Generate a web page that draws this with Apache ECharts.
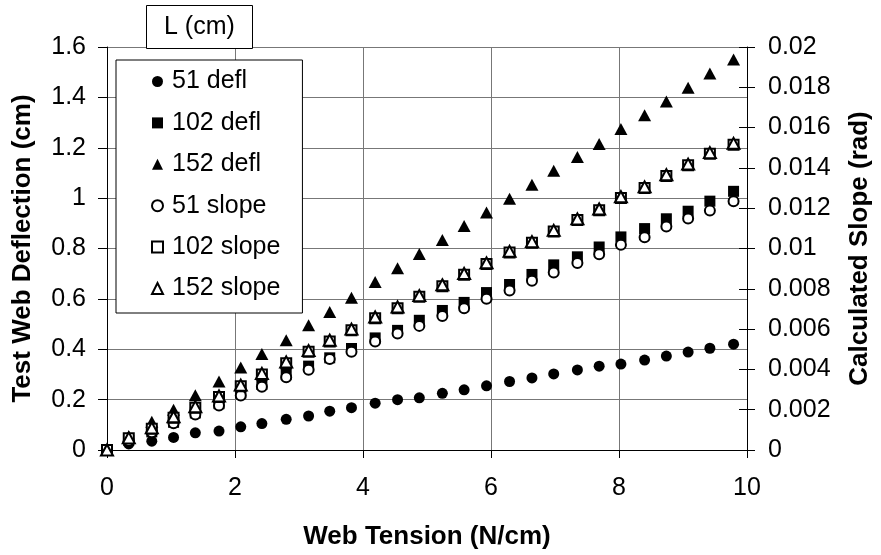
<!DOCTYPE html>
<html>
<head>
<meta charset="utf-8">
<script src="https://cdn.jsdelivr.net/npm/echarts@6/dist/echarts.min.js"></script>
<style>
  html, body { margin: 0; padding: 0; background: #fff; overflow: hidden; }
  #chart { width: 881px; height: 555px; }
</style>
</head>
<body>
<div id="chart"></div>
<script>
// web tension (N/cm), same for every series
var tension = [0, 0.34, 0.70, 1.04, 1.38, 1.75, 2.09, 2.42, 2.80, 3.15, 3.48, 3.82, 4.19, 4.54, 4.88,
  5.24, 5.58, 5.93, 6.29, 6.64, 6.98, 7.35, 7.69, 8.03, 8.40, 8.74, 9.08, 9.42, 9.79]

// deflection (cm), left axis
var defl51 = [0, 0.024, 0.035, 0.05, 0.068, 0.075, 0.092, 0.105, 0.122, 0.135, 0.154, 0.168, 0.186, 0.2, 0.207,
  0.225, 0.239, 0.255, 0.272, 0.286, 0.302, 0.318, 0.333, 0.341, 0.357, 0.373, 0.389, 0.404, 0.42]
var defl102 = [0, 0.038, 0.072, 0.11, 0.147, 0.184, 0.226, 0.26, 0.301, 0.333, 0.366, 0.403, 0.445, 0.475, 0.515,
  0.554, 0.586, 0.625, 0.657, 0.697, 0.735, 0.767, 0.806, 0.846, 0.879, 0.918, 0.948, 0.988, 1.027]
var defl152 = [0, 0.055, 0.112, 0.16, 0.217, 0.272, 0.328, 0.381, 0.436, 0.495, 0.548, 0.604, 0.667, 0.722, 0.778,
  0.834, 0.889, 0.943, 0.998, 1.053, 1.109, 1.163, 1.215, 1.274, 1.329, 1.384, 1.438, 1.495, 1.55]

// calculated slope (rad), right axis
var slope51 = [0, 0.00046, 0.00088, 0.00133, 0.00176, 0.00221, 0.00271, 0.00314, 0.00361, 0.00398, 0.00451, 0.00488,
  0.00539, 0.00578, 0.00616, 0.00665, 0.00703, 0.00751, 0.00791, 0.0084, 0.00881, 0.00928, 0.00971, 0.01018,
  0.01056, 0.01109, 0.01149, 0.01188, 0.01235]
var slope102 = [0, 0.00058, 0.00106, 0.0016, 0.0021, 0.00263, 0.00316, 0.00375, 0.00431, 0.00488, 0.00539, 0.00594,
  0.00654, 0.00703, 0.0076, 0.00813, 0.0087, 0.00923, 0.0098, 0.01028, 0.01084, 0.01141, 0.0119, 0.01251,
  0.013, 0.0136, 0.01413, 0.0147, 0.01515]
var slope152 = [0, 0.0006, 0.0011, 0.00165, 0.00215, 0.00268, 0.00322, 0.0038, 0.00437, 0.00493, 0.00545, 0.006,
  0.0066, 0.0071, 0.00766, 0.0082, 0.00876, 0.00929, 0.00986, 0.01034, 0.0109, 0.01147, 0.01196, 0.01257,
  0.01306, 0.01366, 0.01419, 0.01476, 0.01522]

var font = "'Liberation Sans', Arial, sans-serif"

function pairs(ys) {
  return tension.map(function (x, i) { return [x, ys[i]] })
}

// filled markers have no border, open ones get a black outline on white
function dots(name, symbol, size, ys, axis) {
  var open = symbol.indexOf('empty') === 0
  return {
    name: name,
    type: 'scatter',
    yAxisIndex: axis,
    symbol: symbol,
    symbolSize: size,
    itemStyle: open
      ? { color: '#000', borderColor: '#000', borderWidth: 1.5, opacity: 1 }
      : { color: '#000', borderWidth: 0, opacity: 1 },
    emphasis: { disabled: true },
    data: pairs(ys)
  }
}

var myChart = echarts.init(document.getElementById('chart'))
myChart.setOption({
  animation: false,
  textStyle: { fontFamily: font, color: '#000' },
  title: {
    text: 'L (cm)',
    left: 146,
    top: 6,
    padding: [9, 18, 9, 18],
    borderColor: '#000',
    borderWidth: 1,
    backgroundColor: '#fff',
    textStyle: { fontFamily: font, fontSize: 25, fontWeight: 'normal', color: '#000', lineHeight: 24 },
    z: 10
  },
  legend: {
    orient: 'vertical',
    left: 116,
    top: 60,
    padding: [9, 22, 12, 35],
    itemWidth: 11,
    itemHeight: 11,
    itemGap: 16.4,
    backgroundColor: '#fff',
    borderColor: '#000',
    borderWidth: 1,
    selectedMode: false,
    textStyle: { fontFamily: font, fontSize: 25, color: '#000', lineHeight: 24, padding: [0, 0, 0, 4] },
    data: ['51 defl', '102 defl', '152 defl', '51 slope', '102 slope', '152 slope'],
    z: 10
  },
  grid: { left: 107, right: 127, top: 47, bottom: 102, containLabel: false },
  xAxis: {
    type: 'value',
    min: 0,
    max: 10,
    interval: 2,
    name: 'Web Tension (N/cm)',
    nameLocation: 'middle',
    nameGap: 74,
    nameTextStyle: { fontFamily: font, fontSize: 26, fontWeight: 'bold', color: '#000' },
    axisLine: { lineStyle: { color: '#000', width: 1 } },
    axisTick: { length: 8, lineStyle: { color: '#000' } },
    axisLabel: { fontSize: 25, color: '#000', margin: 26 },
    splitLine: { show: true, lineStyle: { color: '#777', width: 1 } }
  },
  yAxis: [
    {
      type: 'value',
      min: 0,
      max: 1.6,
      interval: 0.2,
      name: 'Test Web Deflection (cm)',
      nameLocation: 'middle',
      nameGap: 71,
      nameTextStyle: { fontFamily: font, fontSize: 26, fontWeight: 'bold', color: '#000' },
      axisLine: { show: true, lineStyle: { color: '#000', width: 1 } },
      axisTick: { show: true, length: 9, lineStyle: { color: '#000' } },
      axisLabel: { fontSize: 25, color: '#000', margin: 21 },
      splitLine: { show: true, lineStyle: { color: '#777', width: 1 } }
    },
    {
      type: 'value',
      position: 'right',
      min: 0,
      max: 0.02,
      interval: 0.002,
      name: 'Calculated Slope (rad)',
      nameLocation: 'middle',
      nameGap: 100,
      nameTextStyle: { fontFamily: font, fontSize: 26, fontWeight: 'bold', color: '#000' },
      axisLine: { show: true, lineStyle: { color: '#000', width: 1 } },
      axisTick: { show: true, length: 8, lineStyle: { color: '#000' } },
      axisLabel: {
        fontSize: 25,
        color: '#000',
        margin: 21,
        formatter: function (v) { return String(+v.toFixed(3)) }
      },
      splitLine: { show: false }
    },
    {
      // second copy of the right axis, only to draw the inner half of its tick marks
      type: 'value',
      position: 'right',
      min: 0,
      max: 0.02,
      interval: 0.002,
      axisLine: { show: false },
      axisTick: { show: true, inside: true, length: 8, lineStyle: { color: '#000' } },
      axisLabel: { show: false },
      splitLine: { show: false }
    }
  ],
  series: [
    dots('51 defl', 'circle', 11, defl51, 0),
    dots('102 defl', 'rect', 11, defl102, 0),
    dots('152 defl', 'triangle', [13, 12], defl152, 0),
    dots('51 slope', 'emptyCircle', 10, slope51, 1),
    dots('102 slope', 'emptyRect', 10, slope102, 1),
    dots('152 slope', 'emptyTriangle', [12, 11], slope152, 1)
  ]
})
</script>
</body>
</html>
